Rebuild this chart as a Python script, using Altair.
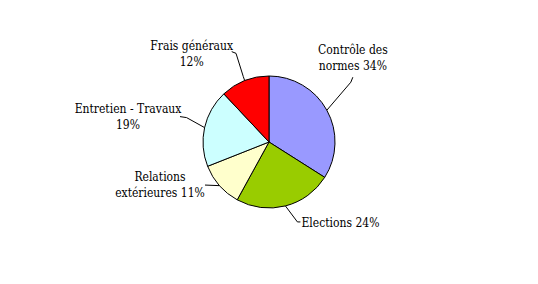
import math
import altair as alt
import pandas as pd

# ---- data ----
labels = ["Contrôle des normes", "Elections", "Relations extérieures", "Entretien - Travaux", "Frais généraux"]
texts = ["Contrôle des\nnormes 34%", "Elections 24%", "Relations\nextérieures 11%", "Entretien - Travaux\n19%", "Frais généraux\n12%"]
values = [34, 24, 11, 19, 12]
colors = ["#9999FF", "#99CC00", "#FFFFCC", "#CCFFFF", "#FF0000"]

# ---- layout ----
W, H = 538, 284
CX, CY, R = W / 2, H / 2, 66
# leader-line bends and label anchors, as offsets from the slice's outer edge point
leader_offsets = [
    [(24, -28), (26, -33)],
    [(12, 16), (15, 16)],
    [(-14.5, -0.6)],
    [(-18, -10), (-24.6, -11)],
    [(-1.4, -4), (-8.7, -27.3), (-13, -29)],
]
label_offsets = [(26, -56), (55, 21), (-59.5, -5), (-76.6, -14.3), (-53, -31)]

total = sum(values)
cum = 0
pie_rows, line_rows, text_rows = [], [], []
for i, (lab, txt, v) in enumerate(zip(labels, texts, values)):
    mid = (cum + v / 2) / total * 2 * math.pi
    cum += v
    ex, ey = CX + R * math.sin(mid), CY - R * math.cos(mid)
    pie_rows.append({"label": lab, "value": v, "idx": i})
    pts = [(ex, ey)] + [(ex + dx, ey + dy) for dx, dy in leader_offsets[i]]
    for j, (px, py) in enumerate(pts):
        line_rows.append({"label": lab, "step": j, "px": px, "py": py})
    lx, ly = label_offsets[i]
    text_rows.append({"label": lab, "text": txt, "px": ex + lx, "py": ey + ly})

pie_df = pd.DataFrame(pie_rows)
line_df = pd.DataFrame(line_rows)
text_df = pd.DataFrame(text_rows)

pie = alt.Chart(pie_df).mark_arc(outerRadius=R, stroke="black", strokeWidth=1).encode(
    theta=alt.Theta("value:Q", stack=True),
    order=alt.Order("idx:Q"),
    color=alt.Color("label:N", scale=alt.Scale(domain=labels, range=colors), legend=None),
)

leaders = alt.Chart(line_df).mark_line(color="black", strokeWidth=1).encode(
    x=alt.X("px:Q", scale=None, axis=None),
    y=alt.Y("py:Q", scale=None, axis=None),
    detail="label:N",
    order="step:Q",
)

label_text = alt.Chart(text_df).mark_text(
    font="DejaVu Serif Condensed", fontSize=12, color="black", align="center",
    baseline="alphabetic", lineBreak="\n", lineHeight=16,
).encode(
    x=alt.X("px:Q", scale=None, axis=None),
    y=alt.Y("py:Q", scale=None, axis=None),
    text="text:N",
)

chart = alt.layer(pie, leaders, label_text).properties(
    width=W, height=H, padding=0, autosize=alt.AutoSizeParams(type="none"),
    background="white",
).configure_view(stroke=None)

chart.save("out.html", embed_options={"renderer": "svg", "actions": False})
